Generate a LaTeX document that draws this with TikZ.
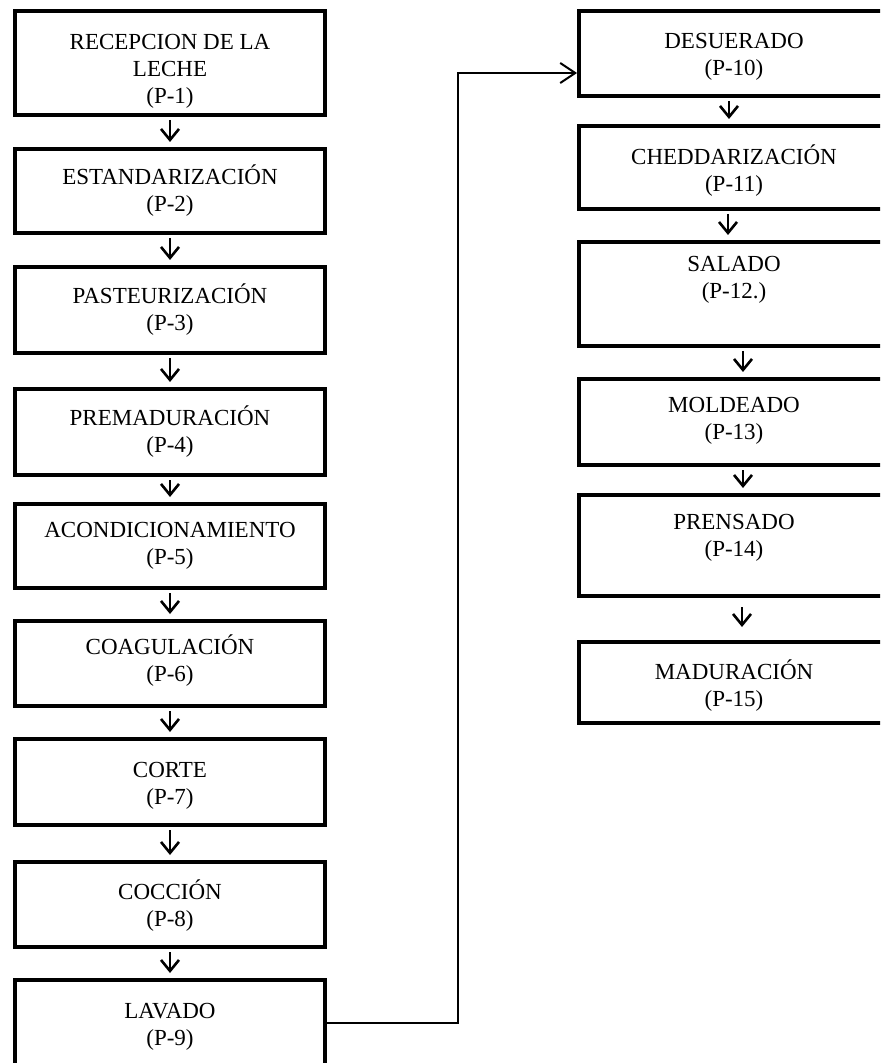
\documentclass[tikz,border=0pt]{standalone}
\usepackage{fontspec}
\setmainfont{Liberation Serif}
\usetikzlibrary{positioning,arrows.meta}

\tikzset{
  caja/.style={draw, line width=2.2pt, minimum width=154.8pt, inner sep=0pt},
  texto/.style={align=center, inner sep=0pt, font=\fontsize{11.5}{13.5}\selectfont,
    execute at begin node={\rule{0pt}{11.5pt}}},
  flecha/.style={line width=1.3pt, -{Straight Barb[length=5.5pt,width=9pt]},
    shorten <=1.5pt, shorten >=2.5pt},
  conector/.style={line width=1pt, -{Straight Barb[length=7.5pt,width=10pt]}}
}

\begin{document}
\begin{tikzpicture}[x=0.5pt, y=-0.5pt]

\useasboundingbox (0,0) rectangle (880,1063);
\clip (0,0) rectangle (880,1063);

% pasos del proceso
\foreach \nom/\xx/\yy/\alto/\sep/\rotulo in {
  p1/170/63/51.8/12.3/RECEPCION DE LA\\LECHE\\(P-1),
  p2/170/191/41.8/8.8/ESTANDARIZACIÓN\\(P-2),
  p3/170/310/42.8/9.3/PASTEURIZACIÓN\\(P-3),
  p4/170/432/42.8/9.3/PREMADURACIÓN\\(P-4),
  p5/170/546/41.8/9.8/ACONDICIONAMIENTO\\(P-5),
  p6/170/663.5/42.3/7.8/COAGULACIÓN\\(P-6),
  p7/170/782/42.8/12.3/CORTE\\(P-7),
  p8/170/904.5/42.3/9.8/COCCIÓN\\(P-8),
  p9/170/1023/42.8/12.3/LAVADO\\(P-9),
  p10/734/53.5/42.3/11.8/DESUERADO\\(P-10),
  p11/734/167.5/41.3/10.3/CHEDDARIZACIÓN\\(P-11),
  p12/734/294/51.8/7.8/SALADO\\(P-12.),
  p13/734/422/42.8/9.8/MOLDEADO\\(P-13),
  p14/734/545.5/50.3/10.3/PRENSADO\\(P-14),
  p15/734/682.5/40.3/9.8/MADURACIÓN\\(P-15)}
{
  \node[caja, minimum height=\alto pt] (\nom) at (\xx,\yy) {};
  \node[texto, below=\sep pt of \nom.north] {\rotulo};
}

\foreach \de/\a/\dx in {p1/p2/0, p2/p3/0, p3/p4/0, p4/p5/0, p5/p6/0, p6/p7/0,
  p7/p8/0, p8/p9/0, p10/p11/-2.5, p11/p12/-3, p12/p13/4.5, p13/p14/4.5}
  \draw[flecha] ([xshift=\dx pt]\de.south) -- ([xshift=\dx pt]\a.north);

\draw[flecha, shorten <=4.5pt, shorten >=6.5pt] ([xshift=4pt]p14.south) -- ([xshift=4pt]p15.north);

% de lavado a desuerado
\coordinate (codo) at (458,73);
\draw[conector] (p9.east) -| (codo) -- (codo -| p10.west);

\end{tikzpicture}
\end{document}
